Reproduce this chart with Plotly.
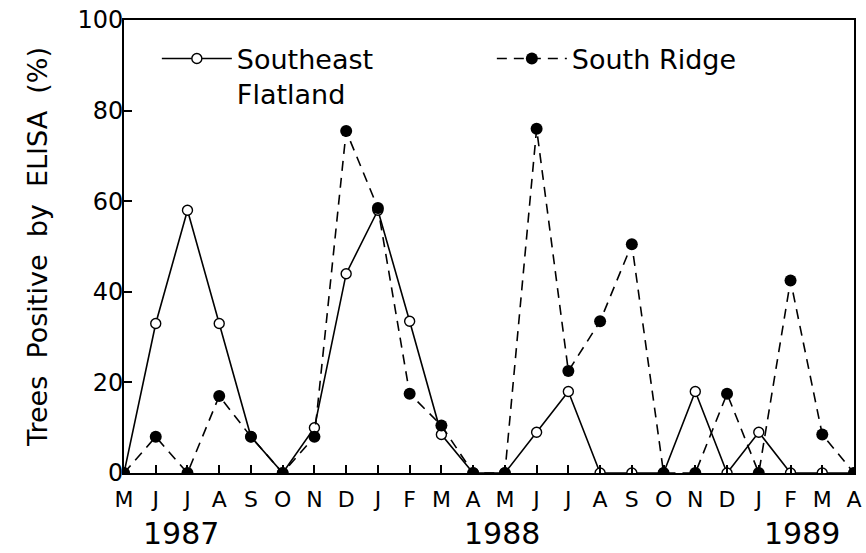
import plotly.graph_objects as go

months = ["M","J","J","A","S","O","N","D","J","F","M","A",
          "M","J","J","A","S","O","N","D","J","F","M","A"]
x_idx = list(range(len(months)))

southeast_flatland = [0, 33, 58, 33, 8, 0, 10, 44, 58, 33.5, 8.5, 0,
                      0, 9, 18, 0, 0, 0, 18, 0, 9, 0, 0, 0]
south_ridge = [0, 8, 0, 17, 8, 0, 8, 75.5, 58.5, 17.5, 10.5, 0,
               0, 76, 22.5, 33.5, 50.5, 0, 0, 17.5, 0, 42.5, 8.5, 0]

years = ["1987", "1988", "1989"]
year_pos = [1.8, 11.9, 21.35]

FONT = "DejaVu Sans"

fig = go.Figure()
fig.add_trace(go.Scatter(
    x=x_idx, y=southeast_flatland, name="Southeast<br>Flatland",
    mode="lines+markers",
    line=dict(color="black", width=1.6),
    marker=dict(symbol="circle", size=10, color="white",
                line=dict(color="black", width=1.4)),
))
fig.add_trace(go.Scatter(
    x=x_idx, y=south_ridge, name="South Ridge",
    mode="lines+markers",
    line=dict(color="black", width=1.6, dash="10px,7px"),
    marker=dict(symbol="circle", size=12, color="black"),
))

for yr, xp in zip(years, year_pos):
    fig.add_annotation(x=xp, y=0, xref="x", yref="paper", yshift=-60,
                       yanchor="middle", text=yr, showarrow=False,
                       font=dict(size=30, color="black", family=FONT))

fig.update_layout(
    width=866, height=553,
    margin=dict(l=124, r=4, t=20, b=80),
    paper_bgcolor="white", plot_bgcolor="white",
    font=dict(family=FONT, color="black"),
    showlegend=True,
    legend=dict(orientation="h", x=0.045, y=0.968, xanchor="left", yanchor="top",
                font=dict(size=27, family=FONT), entrywidth=250, itemwidth=70,
                bgcolor="rgba(0,0,0,0)", valign="top"),
    xaxis=dict(range=[0, 23], tickmode="array", tickvals=x_idx, ticktext=months,
               ticks="inside", ticklen=8, tickcolor="black", tickwidth=1.5,
               showline=True, linecolor="black", linewidth=2, mirror=True,
               showgrid=False, zeroline=False, ticklabeloverflow="allow",
               ticklabelstandoff=6,
               tickfont=dict(size=22, family=FONT)),
    yaxis=dict(range=[0, 100], tickvals=[0, 20, 40, 60, 80, 100],
               ticks="inside", ticklen=8, tickcolor="black", tickwidth=1.5,
               showline=True, linecolor="black", linewidth=2, mirror=True,
               showgrid=False, zeroline=False, ticklabelstandoff=-6,
               tickfont=dict(size=24, family=FONT),
               title=dict(text="Trees&nbsp; Positive&nbsp; by&nbsp; ELISA&nbsp; (%)",
                          font=dict(size=27, family=FONT), standoff=22)),
)

fig.write_html("out.html", config={"displayModeBar": False},
               post_script="document.body.style.margin='0';")
